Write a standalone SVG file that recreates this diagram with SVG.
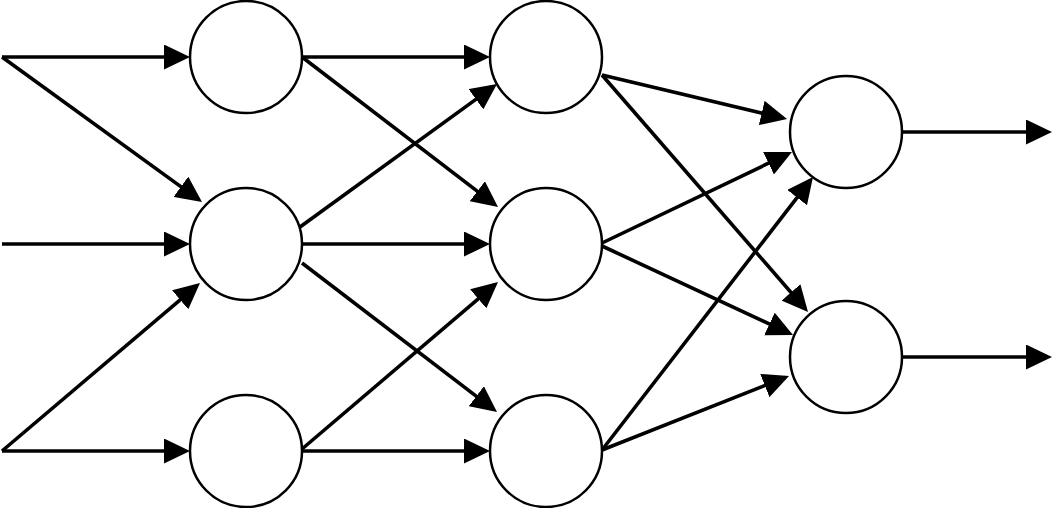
<svg xmlns="http://www.w3.org/2000/svg" width="1052" height="508" viewBox="0 0 1052 508">
<style>
.node{fill:#fff;stroke:#000;stroke-width:2.5}
.edge{stroke:#000;stroke-width:3.6;fill:none;marker-end:url(#arr)}
</style>
<defs>
<marker id="arr" markerUnits="userSpaceOnUse" markerWidth="26" markerHeight="25" refX="22" refY="12.5" orient="auto" viewBox="0 0 26 25">
<path d="M0,0 L26,12.5 L0,25 Z" fill="#000"/>
</marker>
</defs>
<rect width="1052" height="508" fill="#fff"/>
<g id="connectors">
<line class="edge" x1="2" y1="57" x2="186" y2="57"/>
<line class="edge" x1="2" y1="57" x2="198.76" y2="199.65"/>
<line class="edge" x1="2" y1="244" x2="186" y2="244"/>
<line class="edge" x1="2" y1="451" x2="186" y2="451"/>
<line class="edge" x1="2" y1="451" x2="196.95" y2="285.59"/>
<line class="edge" x1="302" y1="57" x2="486" y2="57"/>
<line class="edge" x1="302" y1="57" x2="494.82" y2="204.57"/>
<line class="edge" x1="300" y1="227" x2="493.76" y2="86.35"/>
<line class="edge" x1="302" y1="244" x2="486" y2="244"/>
<line class="edge" x1="302" y1="263" x2="493.82" y2="409.57"/>
<line class="edge" x1="302" y1="449" x2="494.96" y2="284.59"/>
<line class="edge" x1="302" y1="451" x2="486" y2="451"/>
<line class="edge" x1="602" y1="75" x2="783.11" y2="118.07"/>
<line class="edge" x1="602" y1="75" x2="805.38" y2="308.98"/>
<line class="edge" x1="602" y1="243" x2="788.39" y2="153.73"/>
<line class="edge" x1="602" y1="246" x2="789.37" y2="333.31"/>
<line class="edge" x1="602" y1="450" x2="810.55" y2="180.17"/>
<line class="edge" x1="602" y1="450" x2="785.28" y2="377.47"/>
<line class="edge" x1="902" y1="132" x2="1048" y2="132"/>
<line class="edge" x1="902" y1="357" x2="1048" y2="357"/>
</g>
<g id="n1"><circle class="node" cx="246" cy="57" r="56"/></g>
<g id="n2"><circle class="node" cx="246" cy="244" r="56"/></g>
<g id="n3"><circle class="node" cx="246" cy="451" r="56"/></g>
<g id="n4"><circle class="node" cx="546" cy="57" r="56"/></g>
<g id="n5"><circle class="node" cx="546" cy="244" r="56"/></g>
<g id="n6"><circle class="node" cx="546" cy="451" r="56"/></g>
<g id="n7"><circle class="node" cx="846" cy="132" r="56"/></g>
<g id="n8"><circle class="node" cx="846" cy="357" r="56"/></g>
</svg>
